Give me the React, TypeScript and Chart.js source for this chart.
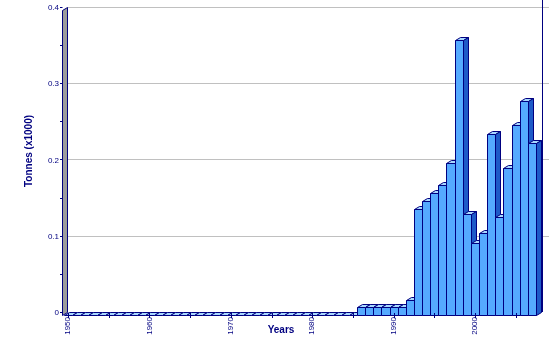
import React, { useEffect, useRef } from 'react';
import { Chart, registerables } from 'chart.js';

Chart.register(...registerables);

const years = [
  1950, 1951, 1952, 1953, 1954, 1955, 1956, 1957, 1958, 1959,
  1960, 1961, 1962, 1963, 1964, 1965, 1966, 1967, 1968, 1969,
  1970, 1971, 1972, 1973, 1974, 1975, 1976, 1977, 1978, 1979,
  1980, 1981, 1982, 1983, 1984, 1985, 1986, 1987, 1988, 1989,
  1990, 1991, 1992, 1993, 1994, 1995, 1996, 1997, 1998, 1999,
  2000, 2001, 2002, 2003, 2004, 2005, 2006, 2007,
];

const tonnes = [
  0, 0, 0, 0, 0, 0, 0, 0, 0, 0,
  0, 0, 0, 0, 0, 0, 0, 0, 0, 0,
  0, 0, 0, 0, 0, 0, 0, 0, 0, 0,
  0, 0, 0, 0, 0, 0, 0.01, 0.01, 0.01, 0.01,
  0.01, 0.01, 0.02, 0.139, 0.149, 0.16, 0.17, 0.199, 0.361, 0.132,
  0.095, 0.107, 0.237, 0.129, 0.193, 0.249, 0.281, 0.226,
];

const yTickLabels = ['0', '0.1', '0.2', '0.3', '0.4'];
const yTitle = 'Tonnes (x1000)';
const xTitle = 'Years';

const NAVY = '#000080';
const FRONT = '#55aaff';
const SIDE = '#1e5ac8';
const TOP = '#a8d8ff';
const WALL = '#9c9c9c';
const GRID = '#c0c0c0';
const FONT = '"Liberation Sans", Arial, sans-serif';
const DX = 5;
const DY = 3;

const excel3d = {
  id: 'excel3d',
  beforeDatasetsDraw(chart: any) {
    const { ctx, chartArea: a, scales } = chart;
    const y = scales.y;
    ctx.save();
    ctx.lineWidth = 1;
    // gridlines on back wall
    ctx.strokeStyle = GRID;
    for (let k = 1; k < yTickLabels.length; k++) {
      const py = Math.round(y.getPixelForValue(k / 10)) - DY + 0.5;
      ctx.beginPath();
      ctx.moveTo(a.left + 3, py);
      ctx.lineTo(chart.width, py);
      ctx.stroke();
    }
    // right edge of back wall
    ctx.strokeStyle = NAVY;
    const rx = Math.round(a.right + DX + 1) + 0.5;
    ctx.beginPath();
    ctx.moveTo(rx, 0);
    ctx.lineTo(rx, Math.round(a.bottom) - DY);
    ctx.stroke();
    // left wall
    const fx = Math.round(a.left) - 2 + 0.5;
    const top = Math.round(a.top) + 0.5;
    const bot = Math.round(a.bottom) + 0.5;
    ctx.beginPath();
    ctx.moveTo(fx, bot);
    ctx.lineTo(fx, top);
    ctx.lineTo(fx + DX, top - DY);
    ctx.lineTo(fx + DX, bot - DY);
    ctx.closePath();
    ctx.fillStyle = WALL;
    ctx.fill();
    ctx.strokeStyle = NAVY;
    ctx.stroke();
    // y ticks (major + minor)
    for (let k = 0; k <= 8; k++) {
      const py = Math.round(y.getPixelForValue(k * 0.05)) - DY + 0.5;
      ctx.beginPath();
      ctx.moveTo(fx - 2.5, py);
      ctx.lineTo(fx, py);
      ctx.stroke();
    }
    ctx.restore();
  },
  beforeDatasetDraw(chart: any, args: any) {
    const { ctx } = chart;
    const meta = args.meta;
    ctx.save();
    ctx.lineWidth = 1;
    ctx.strokeStyle = NAVY;
    meta.data.forEach((el: any) => {
      const { x, y, base, width } = el.getProps(['x', 'y', 'base', 'width'], true);
      const x0 = Math.round(x - width / 2) + 0.5;
      const x1 = Math.round(x + width / 2) + 0.5;
      const yt = Math.round(y) + 0.5;
      const yb = Math.round(base) + 0.5;
      // top face
      ctx.beginPath();
      ctx.moveTo(x0, yt);
      ctx.lineTo(x1, yt);
      ctx.lineTo(x1 + DX, yt - DY);
      ctx.lineTo(x0 + DX, yt - DY);
      ctx.closePath();
      ctx.fillStyle = TOP;
      ctx.fill();
      ctx.stroke();
      if (yb - yt > 0.5) {
        // side face
        ctx.beginPath();
        ctx.moveTo(x1, yt);
        ctx.lineTo(x1 + DX, yt - DY);
        ctx.lineTo(x1 + DX, yb - DY);
        ctx.lineTo(x1, yb);
        ctx.closePath();
        ctx.fillStyle = SIDE;
        ctx.fill();
        ctx.stroke();
        // front face
        ctx.beginPath();
        ctx.rect(x0, yt, x1 - x0, yb - yt);
        ctx.fillStyle = FRONT;
        ctx.fill();
        ctx.stroke();
      }
    });
    ctx.restore();
    return false;
  },
  afterDraw(chart: any) {
    const { ctx, chartArea: a, scales } = chart;
    const xs = scales.x;
    ctx.save();
    ctx.strokeStyle = NAVY;
    ctx.lineWidth = 1;
    years.forEach((yr, i) => {
      if (yr % 5 !== 0) return;
      const px = Math.round(xs.getPixelForValue(i)) + 0.5;
      ctx.beginPath();
      ctx.moveTo(px, a.bottom - 2);
      ctx.lineTo(px, a.bottom + 3);
      ctx.stroke();
    });
    ctx.fillStyle = NAVY;
    ctx.font = 'bold 10px ' + FONT;
    ctx.textAlign = 'center';
    ctx.textBaseline = 'middle';
    ctx.fillText(xTitle, 281, 330);
    ctx.translate(29.5, 151);
    ctx.rotate(-Math.PI / 2);
    ctx.fillText(yTitle, 0, 0);
    ctx.restore();
  },
};

export default function App() {
  const ref = useRef<HTMLCanvasElement | null>(null);
  useEffect(() => {
    if (!ref.current) return;
    const chart = new Chart(ref.current, {
      type: 'bar',
      data: {
        labels: years.map(String),
        datasets: [
          {
            data: tonnes,
            backgroundColor: FRONT,
            borderColor: NAVY,
            borderWidth: 1,
            categoryPercentage: 1,
            barPercentage: 1,
          },
        ],
      },
      options: {
        animation: false,
        responsive: false,
        events: [],
        layout: { padding: { left: 0, right: 13, top: 8, bottom: 0 } },
        plugins: {
          legend: { display: false },
          tooltip: { enabled: false },
          title: { display: false },
        },
        scales: {
          x: {
            offset: true,
            grid: { display: false, drawTicks: false },
            border: { display: false },
            ticks: {
              autoSkip: false,
              minRotation: 90,
              maxRotation: 90,
              padding: 2,
              color: NAVY,
              font: { family: FONT, size: 8 },
              callback: (_v: any, i: number) => (years[i] % 10 === 0 ? String(years[i]) : ''),
            },
            afterFit: (s: any) => {
              s.height = 44;
            },
          },
          y: {
            min: 0,
            max: 0.4,
            grid: { display: false, drawTicks: false },
            border: { display: false },
            ticks: {
              stepSize: 0.05,
              padding: 5,
              labelOffset: -2,
              color: NAVY,
              font: { family: FONT, size: 8 },
              callback: (v: any) => {
                const r = Math.round(Number(v) * 100);
                return r % 10 === 0 ? yTickLabels[r / 10] : '';
              },
            },
            afterFit: (s: any) => {
              s.width = 64;
            },
          },
        },
      },
      plugins: [excel3d],
    } as any);
    return () => chart.destroy();
  }, []);
  return (
    <div style={{ position: 'fixed', left: 0, top: 0, width: 549, height: 359, background: '#fff' }}>
      <canvas ref={ref} width={549} height={359} style={{ display: 'block' }} />
    </div>
  );
}
